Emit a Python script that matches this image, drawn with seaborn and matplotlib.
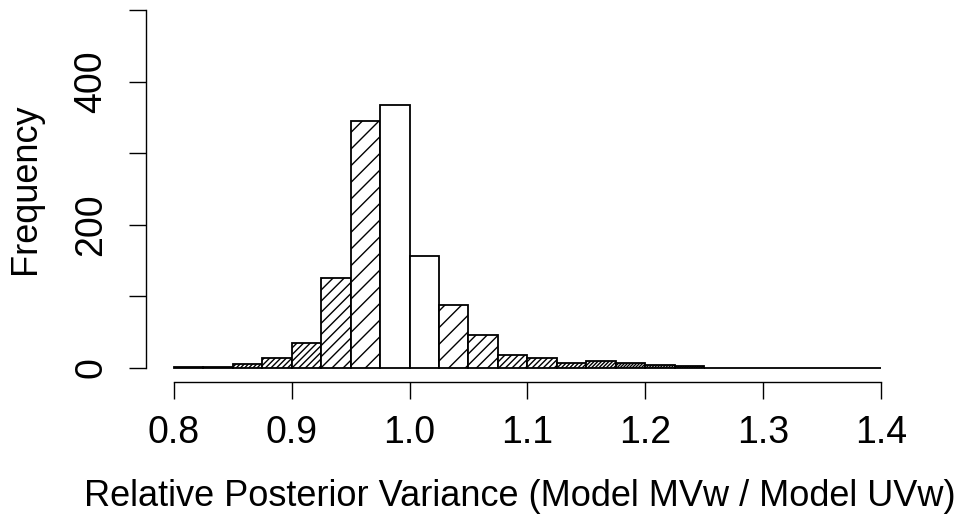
import numpy as np
import pandas as pd
import matplotlib
matplotlib.use("Agg")
import matplotlib.pyplot as plt
import seaborn as sns

# ---- data ----
bin_edges = [round(0.8 + 0.025 * i, 3) for i in range(25)]
counts = [1, 1, 5, 13, 35, 126, 345, 368, 156, 88, 46, 18, 13, 7, 9, 6, 4, 3,
          0, 0, 0, 0, 0, 0]
x_ticks = [0.8, 0.9, 1.0, 1.1, 1.2, 1.3, 1.4]
x_tick_labels = ["0.8", "0.9", "1.0", "1.1", "1.2", "1.3", "1.4"]
y_ticks = [0, 100, 200, 300, 400, 500]
y_tick_labels = ["0", "", "200", "", "400", ""]
x_label = "Relative Posterior Variance (Model MVw / Model UVw)"
y_label = "Frequency"

centers = [(bin_edges[i] + bin_edges[i + 1]) / 2 for i in range(len(counts))]
df = pd.DataFrame({"ratio": centers, "n": counts})

sns.set_style("white")
plt.rcParams["font.family"] = ["Liberation Sans", "DejaVu Sans"]
plt.rcParams["text.color"] = "black"
plt.rcParams["axes.labelcolor"] = "black"
plt.rcParams["hatch.linewidth"] = 1.0

W, H = 973, 517
fig = plt.figure(figsize=(W / 100, H / 100), dpi=100)
left, right, bottom, top = 145.7, 909, 382, -4
ax = fig.add_axes([left / W, 1 - bottom / H, (right - left) / W, (bottom - top) / H])
ax.patch.set_alpha(0)

sns.histplot(data=df, x="ratio", weights="n", bins=bin_edges, ax=ax,
             color="white", edgecolor="black", linewidth=1.3, alpha=1)

# hatch density grows with distance from 1.0
for p, c in zip(ax.patches, centers):
    k = int(round(abs(c - 1.0) / 0.025 - 0.5))
    n = int(1.5 * k + 0.5)
    p.set_facecolor("white")
    p.set_hatch("/" * n if k > 0 else "")

ax.set_xlim(0.776, 1.424)
ax.set_ylim(-20, 520)
for s in ["top", "right"]:
    ax.spines[s].set_visible(False)
for s in ["left", "bottom"]:
    ax.spines[s].set_linewidth(1.0)
    ax.spines[s].set_color("black")
ax.spines["bottom"].set_bounds(0.8, 1.4)
ax.spines["left"].set_bounds(0, 500)

ax.set_xticks(x_ticks)
ax.set_xticklabels(x_tick_labels)
ax.set_yticks(y_ticks)
ax.set_yticklabels(y_tick_labels)
ax.tick_params(axis="both", direction="out", length=12, width=1.0, color="black",
               labelcolor="black", bottom=True, left=True)
ax.tick_params(axis="x", labelsize=27, pad=12)
ax.tick_params(axis="y", labelsize=27, pad=14, labelrotation=90)
for lab in ax.get_yticklabels():
    lab.set_va("center")

ax.set_xlabel(x_label, fontsize=26, labelpad=20)
ax.xaxis.label.set_x(0.5 - 8 / (right - left))
ax.set_ylabel(y_label, fontsize=26, labelpad=22)

fig.savefig("out.png", dpi=100)
